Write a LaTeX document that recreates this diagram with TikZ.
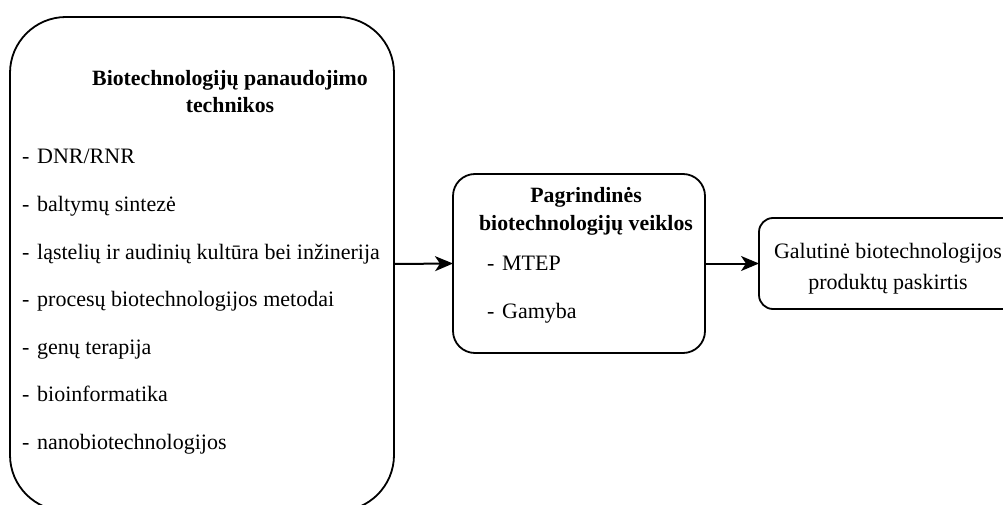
\documentclass[tikz,border=0pt]{standalone}
\usepackage{fontspec}
\setmainfont{Liberation Serif}
\usetikzlibrary{arrows.meta}
\begin{document}
\begin{tikzpicture}[x=1pt,y=-1pt,
  box/.style={draw, line width=1.8pt, inner sep=0pt, outer sep=0pt},
  txt/.style={anchor=base west, inner sep=0pt, font=\fontsize{22}{26}\selectfont},
  ttl/.style={anchor=base, inner sep=0pt, font=\fontsize{21.8}{26}\selectfont\bfseries},
  ctr/.style={anchor=base, inner sep=0pt, font=\fontsize{22}{26}\selectfont},
  arr/.style={line width=2pt, -{Stealth[length=18pt,width=15pt,inset=5pt]}}]
\useasboundingbox (0,0) rectangle (1003,505);
\clip (0,0) rectangle (1003,505);
\newcommand{\itm}[1]{\makebox[15pt][l]{-}#1}

% techniques box (runs past the lower edge)
\node[box, minimum width=384pt, minimum height=494pt, rounded corners=56pt] (tech) at (202,264) {};
\node[ttl] (techT1) at (230,86) {Biotechnologijų panaudojimo};
\node[ttl] (techT2) at (230,113) {technikos};
\node[txt] (t1) at (22,164) {\itm{DNR/RNR}};
\node[txt] (t2) at (22,211.5) {\itm{baltymų sintezė}};
\node[txt] (t3) at (22,259) {\itm{ląstelių ir audinių kultūra bei inžinerija}};
\node[txt] (t4) at (22,306.5) {\itm{procesų biotechnologijos metodai}};
\node[txt] (t5) at (22,354) {\itm{genų terapija}};
\node[txt] (t6) at (22,401.5) {\itm{bioinformatika}};
\node[txt] (t7) at (22,449) {\itm{nanobiotechnologijos}};

% main activities box
\node[box, minimum width=252pt, minimum height=179pt, rounded corners=22pt] (act) at (579,263.5) {};
\node[ttl] (actT1) at (586,203) {Pagrindinės};
\node[ttl] (actT2) at (586,230) {biotechnologijų veiklos};
\node[txt] (a1) at (487,270) {\itm{MTEP}};
\node[txt] (a2) at (487,318) {\itm{Gamyba}};

% final purpose box (runs past the right edge)
\node[box, minimum width=281pt, minimum height=91pt, rounded corners=14pt] (goal) at (899.5,263.5) {};
\node[ctr] (goalT1) at (888,258) {Galutinė biotechnologijos};
\node[ctr] (goalT2) at (888,289) {produktų paskirtis};

% connectors
\draw[arr] (tech.east) -- (act.west);
\draw[arr] (act.east) -- (goal.west);
\end{tikzpicture}
\end{document}
